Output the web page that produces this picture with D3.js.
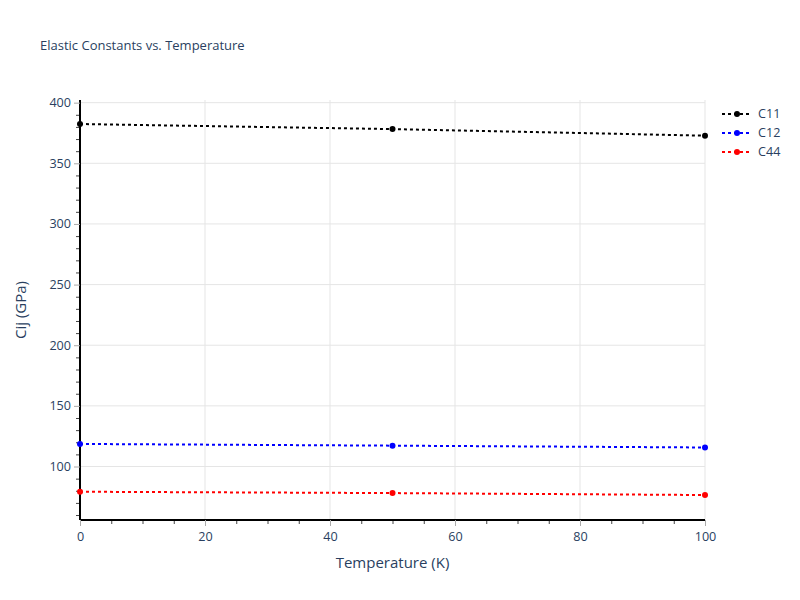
<!DOCTYPE html>
<html>
<head>
<meta charset="utf-8">
<script src="https://cdn.jsdelivr.net/npm/d3@7"></script>
<style>
  body { margin: 0; background: #fff; }
  text { font-family: "Open Sans", verdana, arial, sans-serif; fill: #2a3f5f; }
</style>
</head>
<body>
<div id="chart"></div>
<script>
const WIDTH = 800;
const HEIGHT = 600;
const M = { top: 100, right: 95, bottom: 80, left: 80 };

// data
const temperatures = [0, 50, 100];
const seriesNames = ["C11", "C12", "C44"];
const seriesColors = ["black", "blue", "red"];
const c11 = [382.4, 378.2, 372.8];
const c12 = [118.6, 117.2, 115.7];
const c44 = [79.2, 78.1, 76.5];
const xTicks = [0, 20, 40, 60, 80, 100];
const yTicks = [100, 150, 200, 250, 300, 350, 400];

const series = [c11, c12, c44].map((vals, i) => ({
    name: seriesNames[i],
    color: seriesColors[i],
    points: vals.map((v, j) => ({ t: temperatures[j], v }))
}));

const svg = d3.select("#chart")
    .append("svg")
    .attr("width", WIDTH)
    .attr("height", HEIGHT);

const x = d3.scaleLinear().domain([0, 100]).range([M.left, WIDTH - M.right]);
const y = d3.scaleLinear().domain([55.9, 402.2]).range([HEIGHT - M.bottom, M.top]);

// grid
svg.append("g")
    .selectAll("line")
    .data(xTicks.filter(d => d > 0))
    .enter()
    .append("line")
    .attr("x1", d => x(d)).attr("x2", d => x(d))
    .attr("y1", M.top).attr("y2", HEIGHT - M.bottom)
    .attr("stroke", "#e5e5e5").attr("stroke-width", 1);

svg.append("g")
    .selectAll("line")
    .data(yTicks)
    .enter()
    .append("line")
    .attr("x1", M.left).attr("x2", WIDTH - M.right)
    .attr("y1", d => y(d)).attr("y2", d => y(d))
    .attr("stroke", "#e5e5e5").attr("stroke-width", 1);

// minor ticks
const xMinor = d3.range(0, 101, 5).filter(d => !xTicks.includes(d));
const yMinor = d3.range(60, 401, 10).filter(d => !yTicks.includes(d));

svg.append("g")
    .attr("transform", `translate(0,${HEIGHT - M.bottom})`)
    .call(d3.axisBottom(x).tickValues(xMinor).tickSize(4).tickFormat(""))
    .call(g => g.select(".domain").remove())
    .call(g => g.selectAll("line").attr("stroke", "#444"));

svg.append("g")
    .attr("transform", `translate(${M.left},0)`)
    .call(d3.axisLeft(y).tickValues(yMinor).tickSize(4).tickFormat(""))
    .call(g => g.select(".domain").remove())
    .call(g => g.selectAll("line").attr("stroke", "#444"));

// major axes
const xAxis = svg.append("g")
    .attr("transform", `translate(0,${HEIGHT - M.bottom})`)
    .call(d3.axisBottom(x).tickValues(xTicks).tickSize(6).tickPadding(6).tickSizeOuter(0));
xAxis.select(".domain").attr("stroke", "black").attr("stroke-width", 2)
    .attr("d", `M${M.left},0H${WIDTH - M.right}`);
xAxis.selectAll(".tick line").attr("stroke", "#aaa");
xAxis.selectAll(".tick text").style("font-size", "12.6px").attr("fill", "#2a3f5f")
    .style("font-family", "'Open Sans', verdana, arial, sans-serif");

const yAxis = svg.append("g")
    .attr("transform", `translate(${M.left},0)`)
    .call(d3.axisLeft(y).tickValues(yTicks).tickSize(6).tickPadding(3).tickSizeOuter(0));
yAxis.select(".domain").attr("stroke", "black").attr("stroke-width", 2)
    .attr("d", `M0,${HEIGHT - M.bottom}V${M.top}`);
yAxis.selectAll(".tick line").attr("stroke", "#aaa");
yAxis.selectAll(".tick text").style("font-size", "12.6px").attr("fill", "#2a3f5f")
    .style("font-family", "'Open Sans', verdana, arial, sans-serif");

// lines + markers
const line = d3.line().x(d => x(d.t)).y(d => y(d.v));

series.forEach(s => {
    svg.append("path")
        .datum(s.points)
        .attr("d", line)
        .attr("fill", "none")
        .attr("stroke", s.color)
        .attr("stroke-width", 2)
        .attr("stroke-dasharray", "3,3");

    svg.append("g")
        .selectAll("circle")
        .data(s.points)
        .enter()
        .append("circle")
        .attr("cx", d => x(d.t))
        .attr("cy", d => y(d.v))
        .attr("r", 3)
        .attr("fill", s.color);
});

// title
svg.append("text")
    .attr("x", 40).attr("y", 50)
    .style("font-size", "13px")
    .text("Elastic Constants vs. Temperature");

// axis titles
svg.append("text")
    .attr("x", (M.left + WIDTH - M.right) / 2)
    .attr("y", 568)
    .attr("text-anchor", "middle")
    .style("font-size", "15px")
    .text("Temperature (K)");

svg.append("text")
    .attr("transform", `translate(26,${(M.top + HEIGHT - M.bottom) / 2}) rotate(-90)`)
    .attr("text-anchor", "middle")
    .style("font-size", "15px")
    .text("Cij (GPa)");

// legend
const legend = svg.append("g").attr("transform", "translate(722,114)");
series.forEach((s, i) => {
    const g = legend.append("g").attr("transform", `translate(0,${i * 19})`);
    g.append("line")
        .attr("x1", 0).attr("x2", 30)
        .attr("stroke", s.color).attr("stroke-width", 2)
        .attr("stroke-dasharray", "3,3");
    g.append("circle").attr("cx", 15).attr("r", 3).attr("fill", s.color);
    g.append("text").attr("x", 36).attr("dy", "0.35em")
        .style("font-size", "12.6px").text(s.name);
});
</script>
</body>
</html>
